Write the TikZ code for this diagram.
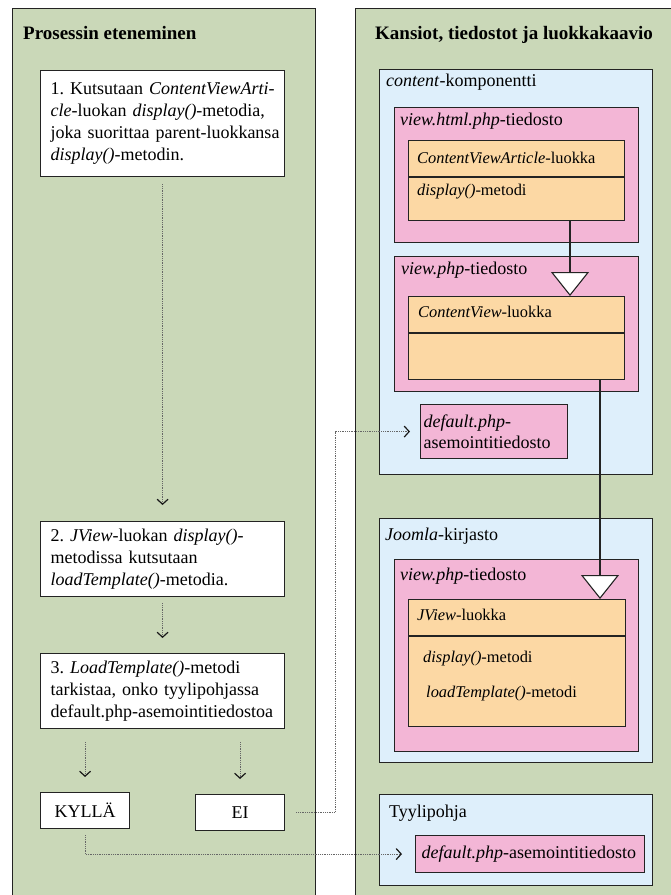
\documentclass[tikz,border=0pt]{standalone}
\usepackage{fontspec}
\setmainfont{Liberation Serif}[Ligatures=TeX]
\usetikzlibrary{arrows.meta,calc}
\definecolor{panelgreen}{RGB}{202,216,184}
\definecolor{folderblue}{RGB}{222,239,251}
\definecolor{filepink}{RGB}{243,182,214}
\definecolor{classorange}{RGB}{252,216,164}
\definecolor{edgegray}{RGB}{35,35,35}
\begin{document}
\frenchspacing
\begin{tikzpicture}[x=1pt,y=-1pt,
  box/.style={draw=edgegray, line width=1.1pt, rectangle, inner sep=0pt, anchor=north west},
  lbl/.style={anchor=base west, inner sep=0pt, font=\rmfamily\fontsize{18}{22}\selectfont},
  cls/.style={anchor=base west, inner sep=0pt, font=\rmfamily\fontsize{16.4}{20}\selectfont},
  ttl/.style={anchor=base west, inner sep=0pt, font=\rmfamily\bfseries\fontsize{19}{23}\selectfont},
  proc/.style={box, fill=white, align=left, text width=224pt, inner xsep=10pt, minimum width=244pt, font=\rmfamily\fontsize{18}{22}\selectfont},
  flow/.style={draw=black!60, line width=0.8pt, dash pattern=on 0.9pt off 0.9pt, -{Straight Barb[length=5pt,width=11pt,line width=1.2pt,color=black!90]}},
  gen/.style={draw=edgegray, line width=1.1pt, -{Triangle[length=24pt,width=38pt,fill=white,line width=1.1pt]}}
]
\path[use as bounding box] (0,0) rectangle (671,895);
\clip (0,0) rectangle (671,895);
\fill[white] (0,0) rectangle (671,895);

% panels
\node[box, fill=panelgreen, minimum width=303pt, minimum height=900pt] (leftpanel) at (12,8) {};
\node[box, fill=panelgreen, minimum width=330pt, minimum height=900pt] (rightpanel) at (355,8) {};
\node[ttl] (lefttitle) at (23,39) {Prosessin eteneminen};
\node[ttl] (righttitle) at (375,39) {Kansiot, tiedostot ja luokkakaavio};

% content component
\node[box, fill=folderblue, minimum width=273pt, minimum height=405pt] (content) at (379,69) {};
\node[lbl] (contentlbl) at (386,86) {\textit{content}-komponentti};
\node[box, fill=filepink, minimum width=244pt, minimum height=135pt] (vhtml) at (394,107) {};
\node[lbl] (vhtmllbl) at (400,125) {\textit{view.html.php}-tiedosto};
\node[box, fill=classorange, minimum width=216pt, minimum height=80pt] (cva) at (408,140) {};
\draw[edgegray, line width=1.1pt] (408,177) -- (624,177);
\node[cls] (cvalbl) at (417,163) {\textit{ContentViewArticle}-luokka};
\node[cls] (cvadisp) at (417,195) {\textit{display()}-metodi};

\node[box, fill=filepink, minimum width=244pt, minimum height=135pt] (vphpa) at (394,256) {};
\node[lbl] (vphpalbl) at (401,274) {\textit{view.php}-tiedosto};
\node[box, fill=classorange, minimum width=216pt, minimum height=83pt] (cv) at (408,296) {};
\draw[edgegray, line width=1.1pt] (408,333) -- (624,333);
\node[cls] (cvlbl) at (418,317) {\textit{ContentView}-luokka};

\node[box, fill=filepink, minimum width=147pt, minimum height=54pt, align=left, text width=141pt, inner xsep=3pt, font=\rmfamily\fontsize{18}{21}\selectfont] (defa) at (420,404) {\textit{default.php}-\\asemointitiedosto};

% Joomla library
\node[box, fill=folderblue, minimum width=273pt, minimum height=244pt] (joomla) at (379,518) {};
\node[lbl] (joomlalbl) at (385,540) {\textit{Joomla}-kirjasto};
\node[box, fill=filepink, minimum width=244pt, minimum height=192pt] (vphpb) at (394,559) {};
\node[lbl] (vphpblbl) at (400,580) {\textit{view.php}-tiedosto};
\node[box, fill=classorange, minimum width=217pt, minimum height=127pt] (jv) at (408,599) {};
\draw[edgegray, line width=1.1pt] (408,636) -- (625,636);
\node[cls] (jvlbl) at (417,620) {\textit{JView}-luokka};
\node[cls] (jvdisp) at (423,662) {\textit{display()}-metodi};
\node[cls] (jvload) at (426,697) {\textit{loadTemplate()}-metodi};

% Template
\node[box, fill=folderblue, minimum width=273pt, minimum height=91pt] (tyyli) at (379,794) {};
\node[lbl] (tyylilbl) at (389,817) {Tyylipohja};
\node[box, fill=filepink, minimum width=223pt, minimum height=37pt, align=left, text width=217pt, inner xsep=6pt, font=\rmfamily\fontsize{18}{21}\selectfont] (defb) at (415,835) {\textit{default.php}-asemointitiedosto};

% process boxes
\node[proc, minimum height=106pt] (step1) at (40,70) {\mbox{1. Kutsutaan \textit{ContentViewArti-}}\\\mbox{\textit{cle}-luokan \textit{display()}-metodia,}\\\mbox{joka suorittaa parent-luokkansa}\\\mbox{\textit{display()}-metodin.}};
\node[proc, minimum height=75pt] (step2) at (40,521) {\mbox{2. \textit{JView}-luokan \textit{display()}-}\\\mbox{metodissa kutsutaan}\\\mbox{\textit{loadTemplate()}-metodia.}};
\node[proc, minimum height=75pt] (step3) at (40,653) {\mbox{3. \textit{LoadTemplate()}-metodi}\\\mbox{tarkistaa, onko tyylipohjassa}\\\mbox{default.php-asemointitiedostoa}};
\node[box, fill=white, minimum width=89pt, minimum height=36pt, font=\rmfamily\fontsize{18}{22}\selectfont] (kylla) at (40,792) {KYLLÄ};
\node[box, fill=white, minimum width=89pt, minimum height=36pt, font=\rmfamily\fontsize{18}{22}\selectfont] (ei) at (195,794) {EI};

% process flow
\draw[flow, shorten <=7pt, shorten >=16pt] (step1.south) -- (step2.north);
\draw[flow, shorten <=6pt, shorten >=15pt] (step2.south) -- (step3.north);
\draw[flow, shorten <=13pt, shorten >=15pt] (kylla.north |- step3.south) -- (kylla.north);
\draw[flow, shorten <=13pt, shorten >=15pt] (ei.north |- step3.south) -- (ei.north);
\coordinate (eibend) at (335,0);
\draw[flow, shorten <=11pt, shorten >=10pt] (ei.east) -- (ei.east -| eibend) |- (defa.west);
\draw[flow, shorten <=6pt, shorten >=13pt] (kylla.south) |- (defb.west);

% generalization
\coordinate (xa) at (570,0);
\coordinate (xb) at (600,0);
\draw[gen] (cva.south -| xa) -- (cv.north -| xa);
\draw[gen] (cv.south -| xb) -- (jv.north -| xb);
\end{tikzpicture}
\end{document}
